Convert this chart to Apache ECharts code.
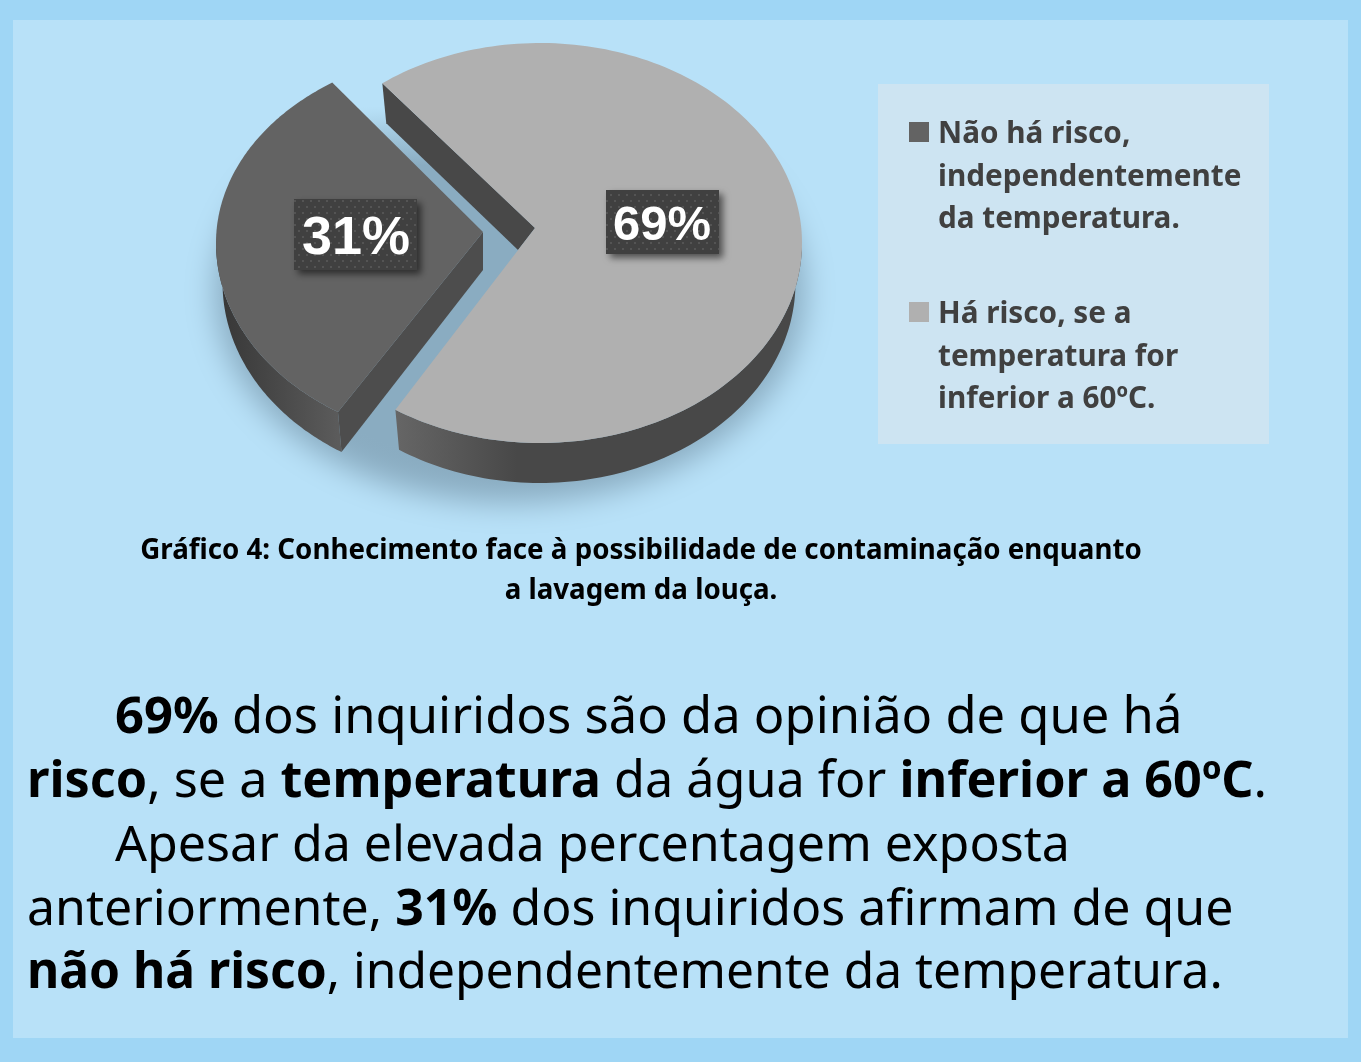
<!DOCTYPE html>
<html lang="pt">

<head>
    <meta charset="UTF-8">
    <title>Gráfico 4</title>
    <style>
        html, body { margin: 0; padding: 0; background: #9fd6f5; }
        #main { width: 1361px; height: 1062px; }
    </style>
</head>

<body>
    <div id="main"></div>

    <script src="https://cdn.jsdelivr.net/npm/echarts@6/dist/echarts.min.js"></script>
    <script>
        // data
        const categories = ['Há risco, se a temperatura for inferior a 60ºC.', 'Não há risco, independentemente da temperatura.'];
        const values = [69, 31];
        const legendLines = [
            ['Não há risco,', 'independentemente', 'da temperatura.'],
            ['Há risco, se a', 'temperatura for', 'inferior a 60ºC.']
        ];
        const captionLines = [
            'Gráfico 4: Conhecimento face à possibilidade de contaminação enquanto',
            'a lavagem da louça.'
        ];
        const bodyLines = [
            '{b|69%} dos inquiridos são da opinião de que há',
            '{b|risco}, se a {b|temperatura} da água for {b|inferior a 60ºC}.',
            'Apesar da elevada percentagem exposta',
            'anteriormente, {b|31%} dos inquiridos afirmam de que',
            '{b|não há risco}, independentemente da temperatura.'
        ];

        // layout of the paragraph lines
        const bodyLayout = [
            { x: 115, size: 50.7 },
            { x: 27, size: 50.3 },
            { x: 115, size: 50.1 },
            { x: 27, size: 50 },
            { x: 27, size: 49.7 }
        ];

        // look of the two exploded slices, same order as values
        // startDeg and sweepFix make up for the perspective of the tilted pie
        const sliceStyle = [
            { cx: 540, ryUp: 200, ryDown: 200, startDeg: 233, sweepFix: 2.1, apex: [535, 228], apexLow: [518, 250],
              top: '#b0b0b0', face: '#484848', wall: ['#666666', '#484848', '#484848'],
              label: [662, 226], box: [606, 190, 113, 64], size: 49 },
            { cx: 478, ryUp: 193, ryDown: 200, startDeg: 122.3, sweepFix: 2.3, apex: [483, 232], apexLow: [483, 270],
              top: '#636363', face: '#4d4d4d', wall: ['#5c5c5c', '#383838', '#383838'],
              label: [356, 239], box: [294, 199, 123, 71], size: 54 }
        ];
        const legendColors = ['#636363', '#b0b0b0'];
        const cy = 243, rx = 262, depth = 40, lowShrink = 0.975;
        const total = values.reduce((a, b) => a + b, 0);

        // dotted texture of the label boxes
        const dots = document.createElement('canvas');
        dots.width = 16;
        dots.height = 12;
        const dc = dots.getContext('2d');
        dc.fillStyle = '#404040';
        dc.fillRect(0, 0, 16, 12);
        dc.fillStyle = '#545454';
        dc.fillRect(2, 2, 2, 2);
        dc.fillRect(10, 2, 2, 2);
        dc.fillRect(6, 8, 2, 2);
        dc.fillRect(14, 8, 2, 2);

        function topPoint(s, deg) {
            const a = deg * Math.PI / 180;
            const sin = Math.sin(a);
            return [s.cx + rx * Math.cos(a), cy + (sin < 0 ? s.ryUp : s.ryDown) * sin];
        }

        function lowPoint(s, deg) {
            const a = deg * Math.PI / 180;
            const sin = Math.sin(a);
            return [s.cx + rx * lowShrink * Math.cos(a), cy + depth + (sin < 0 ? s.ryUp : s.ryDown) * sin];
        }

        function renderSlice(params, api) {
            const s = sliceStyle[params.dataIndex];
            const a0 = s.startDeg;
            const a1 = a0 + api.value(0) / total * 360 + s.sweepFix;

            // top face
            const topPts = [s.apex];
            for (let k = 0; k <= 180; k++) topPts.push(topPoint(s, a0 + (a1 - a0) * k / 180));

            // outer wall, only the part turned to the viewer
            const wallTop = [], wallLow = [];
            for (let k = 0; k <= 180; k++) {
                const d = a0 + (a1 - a0) * k / 180;
                const n = ((d % 360) + 360) % 360;
                if (n <= 180) {
                    wallTop.push(topPoint(s, d));
                    wallLow.unshift(lowPoint(s, d));
                }
            }

            // straight cut face
            const facePts = [topPoint(s, a0), s.apex, s.apexLow, lowPoint(s, a0)];

            const wallX = params.dataIndex === 0 ? [1, 0, 0, 0] : [0, 0, 1, 0];
            return {
                type: 'group',
                children: [
                    {
                        type: 'polygon',
                        shape: { points: wallTop.concat(wallLow) },
                        style: {
                            fill: new echarts.graphic.LinearGradient(wallX[0], wallX[1], wallX[2], wallX[3], [
                                { offset: 0, color: s.wall[2] },
                                { offset: params.dataIndex === 0 ? 0.7 : 0.05, color: s.wall[1] },
                                { offset: 1, color: s.wall[0] }
                            ])
                        }
                    },
                    { type: 'polygon', shape: { points: facePts }, style: { fill: s.face } },
                    { type: 'polygon', shape: { points: topPts }, style: { fill: s.top } },
                    {
                        type: 'rect',
                        shape: { x: s.box[0], y: s.box[1], width: s.box[2], height: s.box[3] },
                        style: {
                            fill: { image: dots, repeat: 'repeat' },
                            shadowBlur: 7,
                            shadowOffsetX: 4,
                            shadowOffsetY: 4,
                            shadowColor: 'rgba(0,0,0,0.55)'
                        }
                    },
                    {
                        type: 'text',
                        style: {
                            x: s.label[0],
                            y: s.label[1],
                            text: api.value(0) + '%',
                            fill: '#ffffff',
                            fontFamily: 'Liberation Sans',
                            fontWeight: 'bold',
                            fontSize: s.size,
                            textAlign: 'center',
                            textVerticalAlign: 'middle'
                        }
                    }
                ]
            };
        }

        const graphics = [
            { type: 'rect', z: 0, shape: { x: 13, y: 20, width: 1335, height: 1018 }, style: { fill: '#b8e1f8' } },
            // soft shadow under the pie: the shape sits off the canvas, only its blur lands here
            {
                type: 'ellipse', z: 1,
                shape: { cx: 510 - 3000, cy: 292, rx: 295, ry: 211 },
                style: {
                    fill: new echarts.graphic.LinearGradient(0, 0, 0, 1, [
                        { offset: 0, color: 'rgba(0,0,0,0)' },
                        { offset: 0.06, color: 'rgba(0,0,0,0)' },
                        { offset: 0.2, color: 'rgba(0,0,0,1)' },
                        { offset: 1, color: 'rgba(0,0,0,1)' }
                    ]),
                    shadowBlur: 30,
                    shadowOffsetX: 3000,
                    shadowColor: 'rgb(138,172,193)'
                }
            },
            { type: 'rect', z: 1, shape: { x: 878, y: 84, width: 391, height: 360 }, style: { fill: '#cde4f2' } }
        ];

        legendLines.forEach((lines, i) => {
            const top = i === 0 ? 122 : 302;
            graphics.push({ type: 'rect', z: 3, shape: { x: 909, y: top, width: 20, height: 20 }, style: { fill: legendColors[i] } });
            lines.forEach((line, j) => {
                graphics.push({
                    type: 'text', z: 3, x: 938, y: top + 13 + j * 42.3,
                    style: {
                        text: line, fill: '#404040', fontFamily: 'Noto Sans', fontWeight: 'bold', fontSize: 29.7,
                        textAlign: 'left', textVerticalAlign: 'middle'
                    }
                });
            });
        });

        captionLines.forEach((line, i) => {
            graphics.push({
                type: 'text', z: 3, x: 641, y: 551 + i * 40,
                style: {
                    text: line, fill: '#000000', fontFamily: 'Noto Sans', fontWeight: 'bold', fontSize: 27.7,
                    textAlign: 'center', textVerticalAlign: 'middle'
                }
            });
        });

        bodyLines.forEach((line, i) => {
            graphics.push({
                type: 'text', z: 3, x: bodyLayout[i].x, y: 719 + i * 63.8,
                style: {
                    text: line, fill: '#000000', fontFamily: 'Noto Sans', fontSize: bodyLayout[i].size,
                    textAlign: 'left', textVerticalAlign: 'middle',
                    rich: { b: { fontFamily: 'Noto Sans', fontWeight: 'bold', fontSize: bodyLayout[i].size, fill: '#000000' } }
                }
            });
        });

        const myChart = echarts.init(document.getElementById('main'));
        myChart.setOption({
            animation: false,
            backgroundColor: '#9fd6f5',
            graphic: { elements: graphics },
            series: [
                {
                    type: 'custom',
                    coordinateSystem: 'none',
                    z: 2,
                    renderItem: renderSlice,
                    data: values.map((v, i) => ({ name: categories[i], value: [v] }))
                }
            ]
        });
    </script>
</body>

</html>
